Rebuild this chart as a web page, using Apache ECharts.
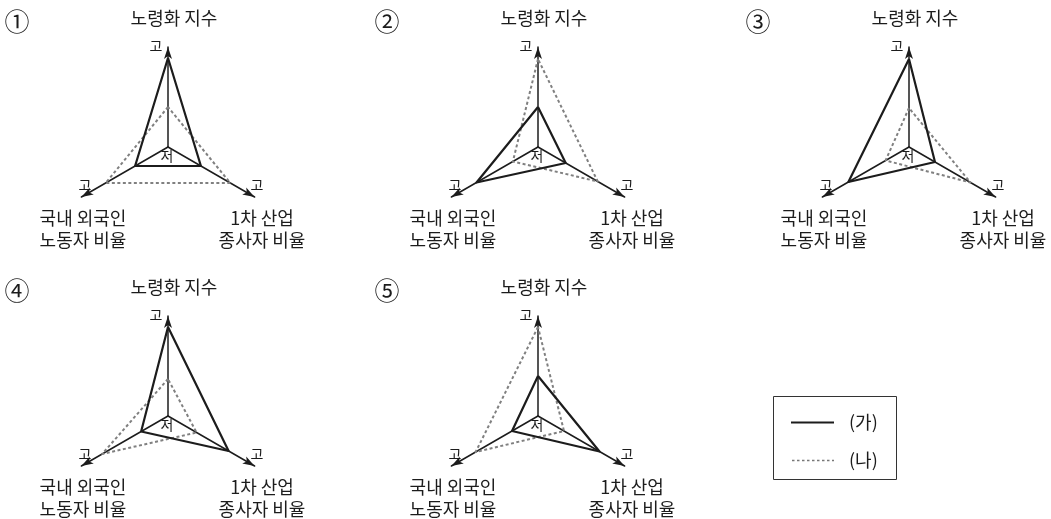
<!DOCTYPE html>
<html>
<head>
<meta charset="utf-8">
<script src="https://cdn.jsdelivr.net/npm/echarts@6/dist/echarts.min.js"></script>
<style>
  html, body { margin: 0; padding: 0; background: #fff; }
  #chart { width: 1051px; height: 519px; }
</style>
</head>
<body>
<div id="chart"></div>
<script>
// 축: 노령화 지수(위), 국내 외국인 노동자 비율(왼쪽 아래), 1차 산업 종사자 비율(오른쪽 아래)
var axisNames = ['노령화 지수', '국내 외국인\n노동자 비율', '1차 산업\n종사자 비율'];
var panelMarks = ['①', '②', '③', '④', '⑤'];
var seriesNames = ['(가)', '(나)'];
// 값은 0(저) ~ 10(고)
var gaValues = [
  [8.9, 3.8, 3.8],
  [4.0, 7.1, 3.2],
  [8.8, 7.0, 3.0],
  [8.9, 3.1, 7.0],
  [4.0, 3.0, 7.1]
];
var naValues = [
  [4.0, 7.2, 7.2],
  [8.8, 2.9, 6.9],
  [3.9, 2.7, 7.1],
  [3.7, 7.6, 3.3],
  [8.9, 7.2, 3.0]
];

var centers = [[168, 147], [538, 147], [909, 147], [168, 416], [538, 416]];
var R = 100;
var FONT = '"Noto Sans CJK KR", "Noto Sans", sans-serif';
var INK = '#1c1c1c';

var myChart = echarts.init(document.getElementById('chart'), null, { renderer: 'canvas' });

var radars = [];
var series = [];
var graphics = [];

function txt(str, x, y, size, align) {
  return {
    type: 'text',
    x: x,
    y: y,
    style: {
      text: str,
      font: size + 'px ' + FONT,
      fill: INK,
      align: align || 'center',
      verticalAlign: 'middle',
      lineHeight: 22
    }
  };
}

centers.forEach(function (c, i) {
  radars.push({
    center: c,
    radius: R,
    startAngle: 90,
    shape: 'polygon',
    splitNumber: 1,
    indicator: axisNames.map(function (n) { return { name: n, max: 10, min: 0 }; }),
    axisName: { show: false },
    splitLine: { show: false },
    splitArea: { show: false },
    axisTick: { show: false },
    axisLabel: { show: false },
    axisLine: {
      show: true,
      symbol: ['none', 'arrow'],
      symbolSize: [6, 12],
      lineStyle: { color: INK, width: 1.5 }
    }
  });

  series.push({
    type: 'radar',
    name: seriesNames[1],
    radarIndex: i,
    symbol: 'none',
    silent: true,
    z: 2,
    lineStyle: { color: '#808080', width: 2, type: [3, 2.5] },
    data: [{ value: naValues[i], name: seriesNames[1] }]
  });
  series.push({
    type: 'radar',
    name: seriesNames[0],
    radarIndex: i,
    symbol: 'none',
    silent: true,
    z: 3,
    lineStyle: { color: INK, width: 2.2 },
    data: [{ value: gaValues[i], name: seriesNames[0] }]
  });

  var x = c[0], y = c[1];
  graphics.push(txt(panelMarks[i], x - 151, y - 126, 25));
  graphics.push(txt(axisNames[0], x + 6, y - 129, 18));
  graphics.push(txt(axisNames[1], x - 85, y + 82, 18));
  graphics.push(txt(axisNames[2], x + 94, y + 82, 18));
  graphics.push(txt('고', x - 12, y - 101, 14));
  graphics.push(txt('고', x - 83, y + 38, 14));
  graphics.push(txt('고', x + 89, y + 38, 14));
  graphics.push(txt('저', x - 1, y + 9, 14));
});

// 범례
graphics.push({
  type: 'rect',
  shape: { x: 773.5, y: 396.5, width: 123, height: 83 },
  style: { fill: 'none', stroke: '#333', lineWidth: 1 }
});
graphics.push({
  type: 'line',
  shape: { x1: 791, y1: 422.5, x2: 834, y2: 422.5 },
  style: { stroke: INK, lineWidth: 2 }
});
graphics.push({
  type: 'line',
  shape: { x1: 792, y1: 460.5, x2: 834, y2: 460.5 },
  style: { stroke: '#777', lineWidth: 1.5, lineDash: [2.5, 2.5] }
});
graphics.push(txt(seriesNames[0], 849, 422, 18, 'left'));
graphics.push(txt(seriesNames[1], 849, 460, 18, 'left'));

var option = {
  backgroundColor: '#fff',
  animation: false,
  radar: radars,
  series: series,
  graphic: graphics
};
myChart.setOption(option);
</script>
</body>
</html>
